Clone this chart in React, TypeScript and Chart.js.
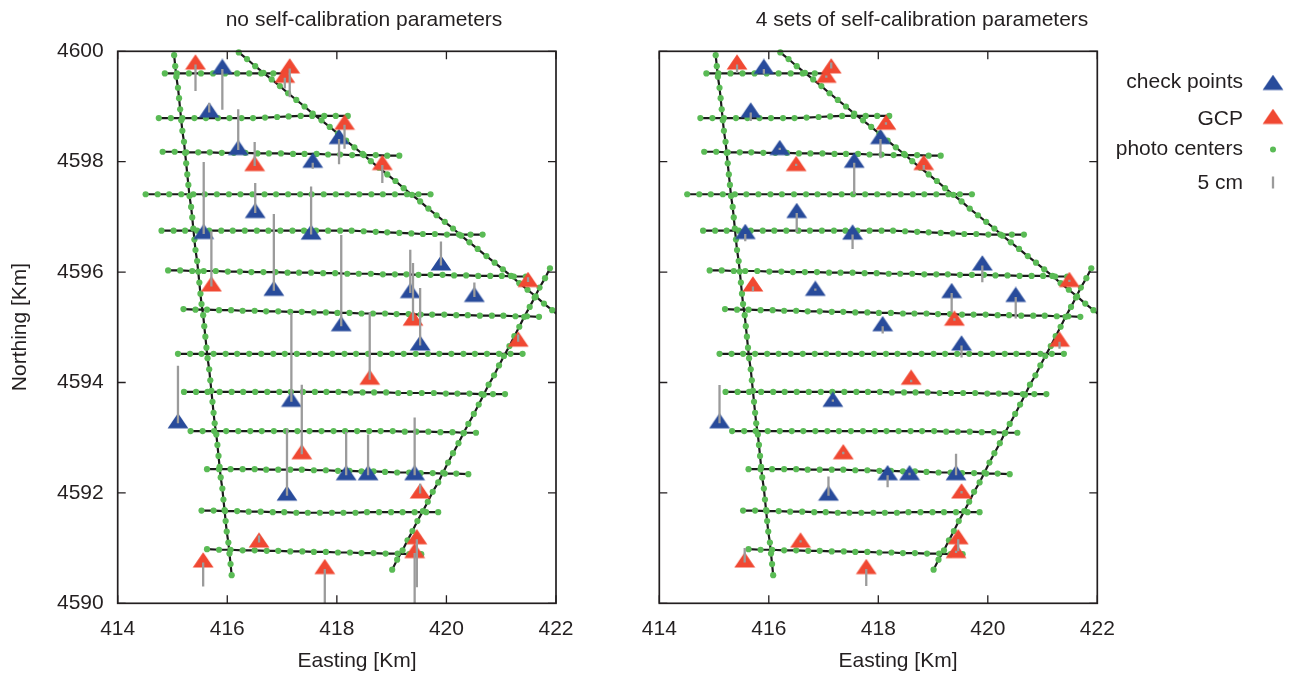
import React, { useEffect, useRef } from 'react';
import { Chart, registerables } from 'chart.js';

Chart.register(...registerables);

const FONT = '"Liberation Sans", Arial, Helvetica, sans-serif';
const INK = '#231f20';
const LINE = '#1a1a1a';
const GREEN = '#5abb55';
const GRAY = '#9b9b9b';
const BLUE = '#284b9b';
const RED = '#f04832';
const CM = 0.0435; // km of plot per cm of residual

const xTickValues = [414, 416, 418, 420, 422];
const yTickValues = [4590, 4592, 4594, 4596, 4598, 4600];

const panelTitles = ['no self-calibration parameters', '4 sets of self-calibration parameters'];
const xAxisTitle = 'Easting [Km]';
const yAxisTitle = 'Northing [Km]';
const legendLabels = ['check points', 'GCP', 'photo centers', '5 cm'];
const legendScaleCm = 5;

// flight strips: photo center easting per strip
const stripX: number[][] = [
  [414.86, 415.08, 415.30, 415.52, 415.74, 415.96, 416.18, 416.40, 416.62, 416.84, 417.06],
  [414.75, 414.97, 415.18, 415.40, 415.61, 415.83, 416.04, 416.26, 416.47, 416.69, 416.91, 417.12, 417.34, 417.55, 417.77, 417.98, 418.20],
  [414.82, 415.04, 415.25, 415.47, 415.68, 415.90, 416.12, 416.33, 416.55, 416.76, 416.98, 417.20, 417.41, 417.63, 417.84, 418.06, 418.28, 418.49, 418.71, 418.92, 419.14],
  [414.51, 414.73, 414.94, 415.16, 415.38, 415.59, 415.81, 416.03, 416.24, 416.46, 416.68, 416.89, 417.11, 417.33, 417.54, 417.76, 417.98, 418.19, 418.41, 418.63, 418.84, 419.06, 419.28, 419.49, 419.71],
  [414.80, 415.02, 415.23, 415.45, 415.67, 415.89, 416.10, 416.32, 416.54, 416.75, 416.97, 417.19, 417.40, 417.62, 417.84, 418.06, 418.27, 418.49, 418.71, 418.92, 419.14, 419.36, 419.57, 419.79, 420.01, 420.23, 420.44, 420.66],
  [414.92, 415.14, 415.36, 415.57, 415.79, 416.01, 416.23, 416.44, 416.66, 416.88, 417.10, 417.31, 417.53, 417.75, 417.97, 418.19, 418.40, 418.62, 418.84, 419.06, 419.27, 419.49, 419.71, 419.93, 420.14, 420.36, 420.58, 420.80, 421.01, 421.23, 421.45],
  [415.20, 415.42, 415.63, 415.85, 416.07, 416.28, 416.50, 416.71, 416.93, 417.15, 417.36, 417.58, 417.80, 418.01, 418.23, 418.45, 418.66, 418.88, 419.09, 419.31, 419.53, 419.74, 419.96, 420.18, 420.39, 420.61, 420.83, 421.04, 421.26, 421.47, 421.69],
  [415.10, 415.32, 415.53, 415.75, 415.97, 416.18, 416.40, 416.62, 416.84, 417.05, 417.27, 417.49, 417.70, 417.92, 418.14, 418.35, 418.57, 418.79, 419.01, 419.22, 419.44, 419.66, 419.87, 420.09, 420.31, 420.52, 420.74, 420.96, 421.17, 421.39],
  [415.21, 415.43, 415.64, 415.86, 416.08, 416.29, 416.51, 416.73, 416.95, 417.16, 417.38, 417.60, 417.81, 418.03, 418.25, 418.47, 418.68, 418.90, 419.12, 419.33, 419.55, 419.77, 419.99, 420.20, 420.42, 420.64, 420.85, 421.07],
  [415.33, 415.55, 415.76, 415.98, 416.20, 416.42, 416.63, 416.85, 417.07, 417.28, 417.50, 417.72, 417.94, 418.15, 418.37, 418.59, 418.80, 419.02, 419.24, 419.45, 419.67, 419.89, 420.11, 420.32, 420.54],
  [415.63, 415.85, 416.06, 416.28, 416.50, 416.71, 416.93, 417.15, 417.36, 417.58, 417.80, 418.02, 418.23, 418.45, 418.67, 418.88, 419.10, 419.32, 419.53, 419.75, 419.97, 420.18, 420.40],
  [415.53, 415.75, 415.96, 416.18, 416.39, 416.61, 416.83, 417.04, 417.26, 417.47, 417.69, 417.91, 418.12, 418.34, 418.55, 418.77, 418.99, 419.20, 419.42, 419.63, 419.85],
  [415.63, 415.85, 416.06, 416.28, 416.50, 416.72, 416.93, 417.15, 417.37, 417.58, 417.80, 418.02, 418.24, 418.45, 418.67, 418.89, 419.11, 419.32, 419.54],
  // cross strip, west
  [415.03, 415.05, 415.07, 415.10, 415.12, 415.14, 415.16, 415.18, 415.21, 415.23, 415.25, 415.27, 415.29, 415.31, 415.34, 415.36, 415.38, 415.40, 415.42, 415.45, 415.47, 415.49, 415.51, 415.53, 415.56, 415.58, 415.60, 415.62, 415.64, 415.67, 415.69, 415.71, 415.73, 415.75, 415.77, 415.80, 415.82, 415.84, 415.86, 415.88, 415.91, 415.93, 415.95, 415.97, 415.99, 416.02, 416.04, 416.06, 416.08],
  // cross strip, north-east diagonal
  [416.21, 416.36, 416.51, 416.66, 416.81, 416.96, 417.11, 417.26, 417.41, 417.56, 417.72, 417.87, 418.02, 418.17, 418.32, 418.47, 418.62, 418.77, 418.92, 419.07, 419.22, 419.37, 419.52, 419.67, 419.82, 419.97, 420.12, 420.27, 420.42, 420.57, 420.73, 420.88, 421.03, 421.18, 421.33, 421.48, 421.63, 421.78, 421.93, 422.08],
  // cross strip, south-east diagonal
  [419.01, 419.10, 419.20, 419.29, 419.38, 419.47, 419.57, 419.66, 419.75, 419.85, 419.94, 420.03, 420.12, 420.22, 420.31, 420.40, 420.50, 420.59, 420.68, 420.77, 420.87, 420.96, 421.05, 421.15, 421.24, 421.33, 421.42, 421.52, 421.61, 421.70, 421.80, 421.89],
];

// flight strips: photo center northing per strip
const stripY: number[][] = [
  [4599.60, 4599.60, 4599.60, 4599.60, 4599.60, 4599.60, 4599.60, 4599.60, 4599.60, 4599.60, 4599.60],
  [4598.79, 4598.79, 4598.79, 4598.79, 4598.79, 4598.79, 4598.79, 4598.79, 4598.79, 4598.80, 4598.81, 4598.82, 4598.83, 4598.83, 4598.83, 4598.83, 4598.83],
  [4598.18, 4598.18, 4598.17, 4598.17, 4598.17, 4598.16, 4598.16, 4598.16, 4598.15, 4598.15, 4598.15, 4598.14, 4598.14, 4598.14, 4598.13, 4598.13, 4598.12, 4598.12, 4598.12, 4598.11, 4598.11],
  [4597.41, 4597.41, 4597.41, 4597.41, 4597.41, 4597.41, 4597.41, 4597.41, 4597.41, 4597.41, 4597.41, 4597.41, 4597.41, 4597.41, 4597.41, 4597.41, 4597.41, 4597.41, 4597.41, 4597.41, 4597.41, 4597.41, 4597.41, 4597.41, 4597.41],
  [4596.75, 4596.75, 4596.75, 4596.75, 4596.75, 4596.75, 4596.75, 4596.75, 4596.75, 4596.75, 4596.75, 4596.75, 4596.75, 4596.75, 4596.75, 4596.75, 4596.75, 4596.74, 4596.73, 4596.72, 4596.71, 4596.70, 4596.69, 4596.69, 4596.68, 4596.68, 4596.68, 4596.68],
  [4596.03, 4596.03, 4596.02, 4596.02, 4596.02, 4596.01, 4596.01, 4596.00, 4596.00, 4596.00, 4595.99, 4595.99, 4595.99, 4595.98, 4595.98, 4595.97, 4595.97, 4595.97, 4595.96, 4595.96, 4595.96, 4595.95, 4595.95, 4595.95, 4595.94, 4595.94, 4595.93, 4595.93, 4595.93, 4595.92, 4595.92],
  [4595.33, 4595.32, 4595.32, 4595.31, 4595.31, 4595.30, 4595.30, 4595.29, 4595.29, 4595.28, 4595.28, 4595.27, 4595.27, 4595.26, 4595.26, 4595.25, 4595.25, 4595.25, 4595.24, 4595.24, 4595.23, 4595.23, 4595.23, 4595.22, 4595.22, 4595.21, 4595.21, 4595.21, 4595.20, 4595.20, 4595.19],
  [4594.52, 4594.52, 4594.52, 4594.52, 4594.52, 4594.52, 4594.52, 4594.52, 4594.52, 4594.52, 4594.52, 4594.52, 4594.52, 4594.52, 4594.52, 4594.52, 4594.52, 4594.52, 4594.52, 4594.52, 4594.52, 4594.52, 4594.52, 4594.52, 4594.52, 4594.52, 4594.52, 4594.52, 4594.52, 4594.52],
  [4593.83, 4593.83, 4593.83, 4593.83, 4593.83, 4593.83, 4593.83, 4593.83, 4593.83, 4593.83, 4593.83, 4593.83, 4593.83, 4593.83, 4593.82, 4593.82, 4593.82, 4593.82, 4593.81, 4593.81, 4593.81, 4593.81, 4593.80, 4593.80, 4593.80, 4593.79, 4593.79, 4593.79],
  [4593.12, 4593.12, 4593.12, 4593.12, 4593.12, 4593.12, 4593.12, 4593.12, 4593.12, 4593.12, 4593.12, 4593.12, 4593.12, 4593.12, 4593.12, 4593.12, 4593.12, 4593.12, 4593.11, 4593.11, 4593.11, 4593.10, 4593.10, 4593.09, 4593.09],
  [4592.43, 4592.43, 4592.43, 4592.43, 4592.43, 4592.42, 4592.42, 4592.42, 4592.42, 4592.41, 4592.41, 4592.40, 4592.40, 4592.39, 4592.39, 4592.38, 4592.37, 4592.37, 4592.36, 4592.36, 4592.35, 4592.35, 4592.34],
  [4591.68, 4591.68, 4591.67, 4591.67, 4591.66, 4591.66, 4591.65, 4591.65, 4591.64, 4591.64, 4591.64, 4591.64, 4591.64, 4591.64, 4591.65, 4591.65, 4591.65, 4591.65, 4591.65, 4591.65, 4591.65],
  [4590.98, 4590.97, 4590.97, 4590.96, 4590.96, 4590.95, 4590.95, 4590.94, 4590.94, 4590.93, 4590.93, 4590.92, 4590.92, 4590.91, 4590.91, 4590.90, 4590.90, 4590.89, 4590.89],
  [4599.93, 4599.73, 4599.54, 4599.34, 4599.15, 4598.95, 4598.75, 4598.56, 4598.36, 4598.16, 4597.97, 4597.77, 4597.58, 4597.38, 4597.18, 4596.99, 4596.79, 4596.59, 4596.40, 4596.20, 4596.01, 4595.81, 4595.61, 4595.42, 4595.22, 4595.02, 4594.83, 4594.63, 4594.44, 4594.24, 4594.04, 4593.85, 4593.65, 4593.45, 4593.26, 4593.06, 4592.87, 4592.67, 4592.47, 4592.28, 4592.08, 4591.88, 4591.69, 4591.49, 4591.30, 4591.10, 4590.90, 4590.71, 4590.51],
  [4599.98, 4599.86, 4599.73, 4599.61, 4599.49, 4599.37, 4599.24, 4599.12, 4599.00, 4598.87, 4598.75, 4598.63, 4598.51, 4598.38, 4598.26, 4598.14, 4598.01, 4597.89, 4597.77, 4597.65, 4597.52, 4597.40, 4597.28, 4597.15, 4597.03, 4596.91, 4596.79, 4596.66, 4596.54, 4596.42, 4596.29, 4596.17, 4596.05, 4595.93, 4595.80, 4595.68, 4595.56, 4595.43, 4595.31, 4595.19],
  [4590.61, 4590.79, 4590.96, 4591.14, 4591.31, 4591.49, 4591.67, 4591.84, 4592.02, 4592.19, 4592.37, 4592.55, 4592.72, 4592.90, 4593.08, 4593.25, 4593.43, 4593.60, 4593.78, 4593.96, 4594.13, 4594.31, 4594.48, 4594.66, 4594.84, 4595.01, 4595.19, 4595.37, 4595.54, 4595.72, 4595.89, 4596.07],
];

// check points
const checkX = [415.91, 415.67, 416.20, 417.56, 418.04, 416.51, 415.57, 417.53, 416.85, 418.08, 419.34, 419.90, 420.51, 419.52, 417.17, 415.10, 417.09, 418.17, 418.57, 419.42];
const checkY = [4599.68, 4598.89, 4598.21, 4597.98, 4598.41, 4597.07, 4596.69, 4596.68, 4595.66, 4595.02, 4595.62, 4596.12, 4595.55, 4594.67, 4593.65, 4593.26, 4591.95, 4592.32, 4592.32, 4592.32];
// vertical residuals [cm]
const checkResNoSC = [-17, 4, 17, -2.5, -10.5, 12.5, 30, 20, 32, 38, 18, 10, 6, 24, 37, 24, 28, 18, 17, 24];
const checkRes4SC = [-2, -3.5, 1, -13, -8, -8, -3, -6, 1, -3, -8, -7, -9, -5, 1, 16, 8, -5, 1, 9];

// ground control points
const gcpX = [415.42, 417.14, 417.05, 416.50, 418.14, 418.83, 415.71, 419.39, 421.49, 421.31, 418.60, 417.36, 419.52, 419.46, 419.42, 416.58, 415.56, 417.78];
const gcpY = [4599.76, 4599.69, 4599.52, 4597.92, 4598.67, 4597.94, 4595.74, 4595.12, 4595.82, 4594.74, 4594.05, 4592.70, 4591.99, 4591.16, 4590.91, 4591.10, 4590.74, 4590.62];
const gcpResNoSC = [-11, -12, -4.5, 10, -10, -7.5, 23, 24, 2, 3, 28, 29, 4, -20, -21, 3, -10, -16];
const gcpRes4SC = [-3.5, 2.5, 1, 1, 1, -2, -2, 1, 1, -3, -1, 1, 1, -5, 1, 1, 6, -7];

function makeTriangle(color: string): HTMLCanvasElement {
  const c = document.createElement('canvas');
  c.width = 22;
  c.height = 21;
  const g = c.getContext('2d')!;
  g.fillStyle = color;
  g.beginPath();
  g.moveTo(11, 0.3);
  g.lineTo(21.4, 15.6);
  g.lineTo(0.6, 15.6);
  g.closePath();
  g.fill();
  return c;
}

function buildDatasets(checkRes: number[], gcpRes: number[], blue: HTMLCanvasElement, red: HTMLCanvasElement) {
  const ds: any[] = [];
  stripX.forEach((xs, i) => {
    ds.push({
      data: xs.map((x, j) => ({ x, y: stripY[i][j] })),
      showLine: true,
      borderColor: LINE,
      borderWidth: 2.2,
      pointRadius: 0,
      tension: 0,
      clip: 0,
      order: 10,
    });
  });
  const centers: { x: number; y: number }[] = [];
  stripX.forEach((xs, i) => xs.forEach((x, j) => centers.push({ x, y: stripY[i][j] })));
  ds.push({
    data: centers,
    showLine: false,
    pointRadius: 3.1,
    pointBackgroundColor: GREEN,
    pointBorderColor: GREEN,
    pointBorderWidth: 0,
    clip: 3,
    order: 5,
  });
  ds.push({
    data: checkX.map((x, i) => ({ x, y: checkY[i] })),
    showLine: false,
    pointStyle: blue,
    pointRadius: 10,
    clip: 14,
    order: 3,
  });
  ds.push({
    data: gcpX.map((x, i) => ({ x, y: gcpY[i] })),
    showLine: false,
    pointStyle: red,
    pointRadius: 10,
    clip: 14,
    order: 2,
  });
  const vec = (x: number, y: number, r: number) => ({
    data: [{ x, y }, { x, y: y + r * CM }],
    showLine: true,
    borderColor: GRAY,
    borderWidth: 2.3,
    borderCapStyle: 'butt',
    pointRadius: 0,
    clip: 0,
    order: 0,
  });
  checkX.forEach((x, i) => ds.push(vec(x, checkY[i], checkRes[i])));
  gcpX.forEach((x, i) => ds.push(vec(x, gcpY[i], gcpRes[i])));
  return ds;
}

interface PanelCfg {
  title: string;
  titleX: number;
  xTitleX: number;
  yTitle?: boolean;
  legend?: { textRight: number; markX: number; blue: HTMLCanvasElement; red: HTMLCanvasElement };
}

function decorPlugin(cfg: PanelCfg) {
  return {
    id: 'decor',
    afterDatasetsDraw(chart: any) {
      const { ctx, chartArea: a, scales } = chart;
      const xs = scales.x;
      const ys = scales.y;
      ctx.save();
      ctx.strokeStyle = INK;
      ctx.lineWidth = 1.7;
      ctx.strokeRect(a.left, a.top, a.right - a.left, a.bottom - a.top);
      ctx.lineWidth = 1.3;
      ctx.beginPath();
      for (const v of xTickValues) {
        const p = xs.getPixelForValue(v);
        ctx.moveTo(p, a.bottom);
        ctx.lineTo(p, a.bottom - 8);
        ctx.moveTo(p, a.top);
        ctx.lineTo(p, a.top + 8);
      }
      for (const v of yTickValues) {
        const p = ys.getPixelForValue(v);
        ctx.moveTo(a.left, p);
        ctx.lineTo(a.left + 8, p);
        ctx.moveTo(a.right, p);
        ctx.lineTo(a.right - 8, p);
      }
      ctx.stroke();

      ctx.fillStyle = INK;
      ctx.font = `21px ${FONT}`;
      ctx.textAlign = 'center';
      ctx.textBaseline = 'alphabetic';
      ctx.fillText(cfg.title, cfg.titleX, 26);
      ctx.fillText(xAxisTitle, cfg.xTitleX, 667);
      if (cfg.yTitle) {
        ctx.save();
        ctx.translate(26, 327);
        ctx.rotate(-Math.PI / 2);
        ctx.fillText(yAxisTitle, 0, 0);
        ctx.restore();
      }
      if (cfg.legend) {
        const L = cfg.legend;
        const baselines = [88, 125, 155, 189];
        ctx.textAlign = 'right';
        legendLabels.forEach((t, i) => ctx.fillText(t, L.textRight, baselines[i]));
        ctx.drawImage(L.blue, L.markX - 11, 85 - 10.5);
        ctx.drawImage(L.red, L.markX - 11, 119 - 10.5);
        ctx.fillStyle = GREEN;
        ctx.beginPath();
        ctx.arc(L.markX, 149.5, 3, 0, Math.PI * 2);
        ctx.fill();
        const pxPerKm = Math.abs(ys.getPixelForValue(4590) - ys.getPixelForValue(4600)) / 10;
        const len = legendScaleCm * CM * pxPerKm;
        ctx.strokeStyle = GRAY;
        ctx.lineWidth = 2.3;
        ctx.beginPath();
        ctx.moveTo(L.markX, 188.5);
        ctx.lineTo(L.markX, 188.5 - len);
        ctx.stroke();
      }
      ctx.restore();
    },
  };
}

function makeConfig(opts: {
  datasets: any[];
  yWidth: number;
  padRight: number;
  showYLabels: boolean;
  cfg: PanelCfg;
}) {
  const tickFont = { family: FONT, size: 21 };
  return {
    type: 'scatter' as const,
    data: { datasets: opts.datasets },
    options: {
      responsive: false,
      animation: false as const,
      devicePixelRatio: 1,
      events: [] as any[],
      layout: { padding: { left: 0, top: 51.3, right: opts.padRight, bottom: 0 } },
      plugins: { legend: { display: false }, tooltip: { enabled: false }, title: { display: false } },
      scales: {
        x: {
          type: 'linear' as const,
          min: 414,
          max: 422,
          grid: { display: false, drawTicks: false },
          border: { display: false },
          ticks: {
            stepSize: 2,
            padding: 13,
            color: INK,
            font: tickFont,
            maxRotation: 0,
            autoSkip: false,
            callback: (v: any) => String(v),
          },
          afterFit: (s: any) => {
            s.height = 71.7;
          },
        },
        y: {
          type: 'linear' as const,
          min: 4590,
          max: 4600,
          grid: { display: false, drawTicks: false },
          border: { display: false },
          ticks: {
            display: opts.showYLabels,
            stepSize: 2,
            padding: 14,
            color: INK,
            font: tickFont,
            autoSkip: false,
            callback: (v: any) => String(v),
          },
          afterFit: (s: any) => {
            s.width = opts.yWidth;
          },
        },
      },
    },
    plugins: [decorPlugin(opts.cfg)],
  };
}

export default function App() {
  const refA = useRef<HTMLCanvasElement>(null);
  const refB = useRef<HTMLCanvasElement>(null);

  useEffect(() => {
    const blue = makeTriangle(BLUE);
    const red = makeTriangle(RED);
    const a = new Chart(
      refA.current!,
      makeConfig({
        datasets: buildDatasets(checkResNoSC, gcpResNoSC, blue, red),
        yWidth: 117.7,
        padRight: 44,
        showYLabels: true,
        cfg: { title: panelTitles[0], titleX: 364, xTitleX: 357, yTitle: true },
      }) as any
    );
    const b = new Chart(
      refB.current!,
      makeConfig({
        datasets: buildDatasets(checkRes4SC, gcpRes4SC, blue, red),
        yWidth: 59.3,
        padRight: 193.7,
        showYLabels: false,
        cfg: {
          title: panelTitles[1],
          titleX: 322,
          xTitleX: 298,
          legend: { textRight: 643, markX: 673, blue, red },
        },
      }) as any
    );
    return () => {
      a.destroy();
      b.destroy();
    };
  }, []);

  return (
    <div
      style={{
        position: 'fixed',
        left: 0,
        top: 0,
        width: 1291,
        height: 675,
        background: '#ffffff',
        overflow: 'hidden',
      }}
    >
      <canvas
        ref={refA}
        width={600}
        height={675}
        style={{ position: 'absolute', left: 0, top: 0, width: 600, height: 675 }}
      />
      <canvas
        ref={refB}
        width={691}
        height={675}
        style={{ position: 'absolute', left: 600, top: 0, width: 691, height: 675 }}
      />
    </div>
  );
}
